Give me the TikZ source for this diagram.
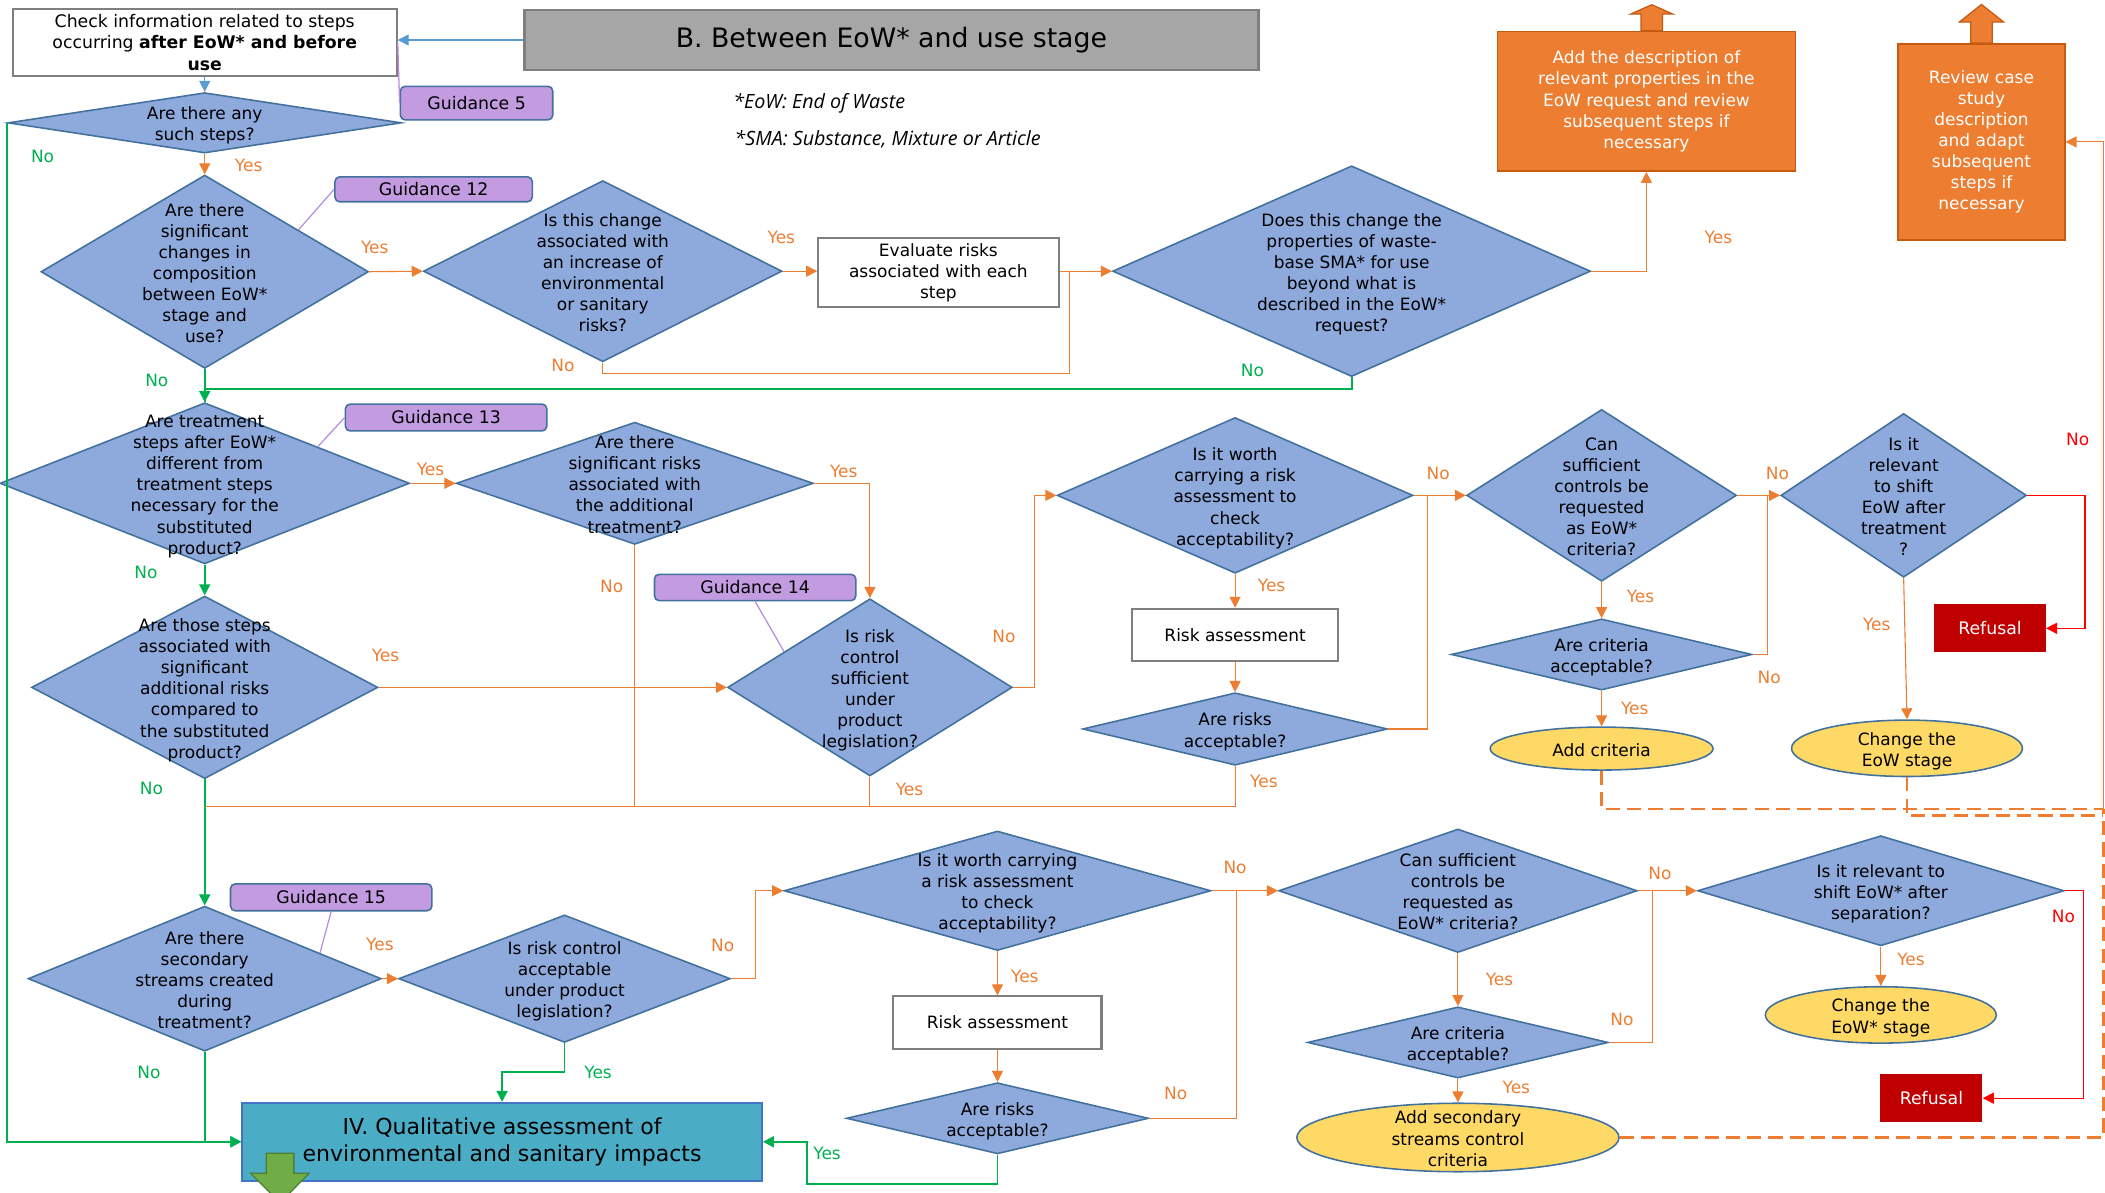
\documentclass[tikz,border=0pt]{standalone}
\usepackage{fontspec}
\setmainfont{DejaVu Sans}
\newfontfamily\notefont{Open Sans}
\usetikzlibrary{shapes.geometric,arrows.meta,calc}

\definecolor{qblue}{HTML}{8EA9DB}
\definecolor{qedge}{HTML}{41719C}
\definecolor{gdfill}{HTML}{C39BE0}
\definecolor{lnorange}{HTML}{ED7D31}
\definecolor{lngreen}{HTML}{00B050}
\definecolor{lnred}{HTML}{FF0000}
\definecolor{lnblue}{HTML}{5B9BD5}
\definecolor{lnpurple}{HTML}{B48FE0}
\definecolor{ellfill}{HTML}{FFD966}
\definecolor{boxorange}{HTML}{ED7D31}
\definecolor{boxorangeedge}{HTML}{C55A11}
\definecolor{refred}{HTML}{C00000}
\definecolor{ivfill}{HTML}{4BACC6}
\definecolor{ivedge}{HTML}{4472C4}
\definecolor{blkgreen}{HTML}{70AD47}
\definecolor{blkgreenedge}{HTML}{507E32}
\definecolor{titlegray}{HTML}{A6A6A6}
\definecolor{edgegray}{HTML}{7F7F7F}

\newcommand{\qtext}[1]{\makebox[0pt]{\smash{\raisebox{-0.45em}{\begin{tabular}{@{}c@{}}#1\end{tabular}}}}}

\begin{document}
\begin{tikzpicture}[x=0.03cm, y=-0.03cm,
	every node/.style={font=\fontsize{10.8}{13.4}\selectfont},
	sz/.style 2 args={minimum width=#1*0.03cm, minimum height=#2*0.03cm},
	quest/.style={diamond, draw=qedge, fill=qblue, line width=1pt, inner sep=0pt},
	ovalq/.style={ellipse, draw=qedge, fill=ellfill, line width=1pt, inner sep=0pt},
	plainbox/.style={rectangle, draw=edgegray, fill=white, line width=1.3pt, inner sep=0pt, align=center},
	titlebox/.style={rectangle, draw=edgegray, fill=titlegray, line width=1.6pt, inner sep=0pt, font=\fontsize{17}{20}\selectfont},
	guide/.style={rectangle, rounded corners=3pt, draw=qedge, fill=gdfill, line width=1pt, inner sep=0pt, font=\fontsize{11}{13}\selectfont},
	actbox/.style={rectangle, draw=boxorangeedge, fill=boxorange, line width=1pt, inner sep=0pt, align=center, text=white},
	refbox/.style={rectangle, fill=refred, inner sep=0pt, text=white, font=\fontsize{11}{13}\selectfont},
	ivbox/.style={rectangle, draw=ivedge, fill=ivfill, line width=1.3pt, inner sep=0pt, align=center, font=\fontsize{14}{17}\selectfont},
	note/.style={anchor=west, inner sep=0pt, font=\notefont\itshape\fontsize{12.5}{15}\selectfont},
	arr/.style={-{Triangle[length=7pt,width=7pt]}},
	ornl/.style={draw=lnorange, line width=0.7pt},
	grnl/.style={draw=lngreen, line width=1.2pt},
	redl/.style={draw=lnred, line width=0.7pt},
	bluel/.style={draw=lnblue, line width=0.8pt},
	purpl/.style={draw=lnpurple, line width=0.8pt},
	dashl/.style={draw=lnorange, line width=1.6pt, dash pattern=on 9pt off 4.5pt},
	upblk/.style={draw=boxorangeedge, fill=boxorange, line width=0.8pt},
	dnblk/.style={draw=blkgreenedge, fill=blkgreen, line width=0.8pt},
	tago/.style={text=lnorange},
	tagg/.style={text=lngreen},
	tagr/.style={text=lnred}]
	\useasboundingbox (0,0) rectangle (1568,888);

	\node[plainbox, sz={286}{50}, font=\fontsize{11}{13.6}\selectfont] (check) at (152.5,31.5) {Check information related to steps\\occurring \textbf{after EoW* and before}\\\textbf{use}};
	\node[titlebox, sz={547}{44.7}] (title) at (664,29.8) {B. Between EoW* and use stage};
	\node[guide, sz={113.5}{25}] (g5) at (355,76.8) {Guidance 5};
	\node[guide, sz={147}{18.6}] (g12) at (323,141) {Guidance 12};
	\node[guide, sz={150}{20}] (g13) at (332.3,311) {Guidance 13};
	\node[guide, sz={150}{19.6}] (g14) at (562.5,437.6) {Guidance 14};
	\node[guide, sz={150}{20}] (g15) at (246.7,668.4) {Guidance 15};
	\node[note] (fn1) at (546,77) {*EoW: End of Waste};
	\node[note] (fn2) at (547,104) {*SMA: Substance, Mixture or Article};

	\node[quest, sz={293}{45}] (d1) at (152.5,91.5) {\qtext{Are there any\\such steps?}};
	\node[quest, sz={244}{144}] (d2) at (152.5,202.4) {\qtext{Are there\\significant\\changes in\\composition\\between EoW*\\stage and\\use?}};
	\node[quest, sz={267}{135}] (d3) at (449,202) {\qtext{Is this change\\associated with\\an increase of\\environmental\\or sanitary\\risks?}};
	\node[plainbox, sz={179}{52}] (eval) at (699,203) {Evaluate risks\\associated with each\\step};
	\node[quest, sz={356}{157}] (d4) at (1006.8,202) {\qtext{Does this change the\\properties of waste-\\base SMA* for use\\beyond what is\\described in the EoW*\\request?}};
	\node[actbox, sz={222}{104}] (ob1) at (1226.4,75.5) {Add the description of\\relevant properties in the\\EoW request and review\\subsequent steps if\\necessary};
	\node[actbox, sz={124}{146}] (ob2) at (1476,105.7) {Review case\\study\\description\\and adapt\\subsequent\\steps if\\necessary};

	\node[quest, sz={305}{120}] (d5) at (152.5,360) {\qtext{Are treatment\\steps after EoW*\\different from\\treatment steps\\necessary for the\\substituted\\product?}};
	\node[quest, sz={266}{91}] (d6) at (472.8,360) {\qtext{Are there\\significant risks\\associated with\\the additional\\treatment?}};
	\node[quest, sz={212}{132}] (d7) at (648,512) {\qtext{Is risk\\control\\sufficient\\under\\product\\legislation?}};
	\node[quest, sz={258}{136}] (d8) at (152.5,512) {\qtext{Are those steps\\associated with\\significant\\additional risks\\compared to\\the substituted\\product?}};
	\node[quest, sz={265}{116}] (d9) at (920,369) {\qtext{Is it worth\\carrying a risk\\assessment to\\check\\acceptability?}};
	\node[plainbox, sz={154}{39}] (ra1) at (920,473) {Risk assessment};
	\node[quest, sz={227}{54}] (ra1q) at (920,543) {\qtext{Are risks\\acceptable?}};
	\node[quest, sz={201}{128}] (d11) at (1193,369) {\qtext{Can\\sufficient\\controls be\\requested\\as EoW*\\criteria?}};
	\node[quest, sz={224}{53}] (d12) at (1193,487.5) {\qtext{Are criteria\\acceptable?}};
	\node[ovalq, sz={166}{32}] (ell1) at (1193,557.6) {\qtext{Add criteria}};
	\node[quest, sz={183}{122}] (d13) at (1418,369) {\qtext{Is it\\relevant\\to shift\\EoW after\\treatment\\?}};
	\node[ovalq, sz={172}{42}] (ell2) at (1420.5,557.4) {\qtext{Change the\\EoW stage}};
	\node[refbox, sz={83}{36}] (ref1) at (1482.3,468) {Refusal};

	\node[quest, sz={263}{108}] (d10) at (152.5,729) {\qtext{Are there\\secondary\\streams created\\during\\treatment?}};
	\node[quest, sz={247}{95}] (d14) at (420.5,729) {\qtext{Is risk control\\acceptable\\under product\\legislation?}};
	\node[ivbox, sz={387}{58}] (iv) at (374,850.5) {IV. Qualitative assessment of\\environmental and sanitary impacts};
	\node[quest, sz={318}{89}] (d15) at (743,663.5) {\qtext{Is it worth carrying\\a risk assessment\\to check\\acceptability?}};
	\node[plainbox, sz={155}{39}] (ra2) at (743,761.7) {Risk assessment};
	\node[quest, sz={225}{53}] (d16) at (743,833) {\qtext{Are risks\\acceptable?}};
	\node[quest, sz={267}{92}] (d17) at (1086,663.5) {\qtext{Can sufficient\\controls be\\requested as\\EoW* criteria?}};
	\node[quest, sz={224}{53}] (d18) at (1086,776.5) {\qtext{Are criteria\\acceptable?}};
	\node[ovalq, sz={240}{51}] (ell3) at (1086,847.3) {\qtext{Add secondary\\streams control\\criteria}};
	\node[quest, sz={273}{82}] (d19) at (1401,663.5) {\qtext{Is it relevant to\\shift EoW* after\\separation?}};
	\node[ovalq, sz={172}{42}] (ell4) at (1401,756) {\qtext{Change the\\EoW* stage}};
	\node[refbox, sz={76}{36}] (ref2) at (1438.7,818) {Refusal};

	\draw[bluel, arr] (title.west) -- (check.east |- title.west);
	\draw[purpl] (check.east) -- (g5.west);
	\draw[bluel, arr] (check.south) -- (d1.north);
	\draw[ornl, arr] (d1.south) -- (d2.north);
	\draw[grnl, arr] (d1.west) |- (iv.west);
	\draw[ornl, arr] (d2.east) -- (d3.west);
	\draw[purpl] ($(d2.north)!0.57!(d2.east)$) -- (g12.west);
	\draw[ornl, arr] (d3.east) -- (eval.west |- d3.east);
	\draw[ornl, arr] (eval.east |- d4.west) -- (d4.west);
	\draw[ornl] (d3.south) -- ++(0,8.4) -| ($(eval.east |- d4.west)+(7.5,0)$);
	\draw[ornl, arr] (d4.east) -| (ob1.south);
	\draw[grnl, arr] (d2.south) -- (d5.north);
	\draw[grnl] (d4.south) -- ++(0,8.7) -| (d5.north);
	\draw[upblk] (ob1.north) ++(-4,0) -- ++(0,-12.4) -- ++(-7.8,0) -- ++(15.8,-7) -- ++(15.8,7) -- ++(-7.8,0) -- ++(0,12.4) -- cycle;
	\draw[upblk] (ob2.north) ++(-8,0) -- ++(0,-15.7) -- ++(-8.5,0) -- ++(16.5,-13.1) -- ++(16.5,13.1) -- ++(-8.5,0) -- ++(0,15.7) -- cycle;

	\draw[ornl, arr] (d5.east) -- (d6.west);
	\draw[purpl] ($(d5.north)!0.55!(d5.east)$) -- (g13.west);
	\draw[grnl, arr] (d5.south) -- (d8.north);
	\draw[ornl, arr] (d6.east) -| (d7.north);
	\draw[purpl] (g14.south) -- ($(d7.north)!0.6!(d7.west)$);
	\draw[ornl, arr] (d8.east) -- (d7.west);
	\draw[grnl, arr] (d8.south) -- (d10.north);
	\coordinate (merge) at (152.5,601);
	\draw[ornl] (d6.south) -- (d6.south |- merge);
	\draw[ornl] (d7.south) |- (merge);
	\draw[ornl] (ra1q.south) |- (merge);
	\draw[ornl, arr] (d7.east) -- ++(16,0) |- (d9.west);
	\draw[ornl, arr] (d9.south) -- (ra1.north);
	\draw[ornl, arr] (ra1.south) -- (ra1q.north);
	\draw[ornl, arr] (d9.east) -- (d11.west);
	\draw[ornl] (ra1q.east) -- ++(29,0) |- (d11.west);
	\draw[ornl, arr] (d11.south) -- (d12.north);
	\draw[ornl, arr] (d12.south) -- (ell1.north);
	\draw[ornl, arr] (d11.east) -- (d13.west);
	\draw[ornl] (d12.east) -- ++(11,0) |- (d13.west);
	\draw[ornl, arr] (d13.south) -- (ell2.north);
	\draw[redl, arr] (d13.east) -- ++(43,0) |- (ref1.east);

	\coordinate (rt1) at (1566.7,602.6);
	\coordinate (rt2) at (1566.7,607.6);
	\draw[dashl] (ell1.south) |- (rt1);
	\draw[dashl] (ell2.south) |- (rt2);
	\draw[dashl] (ell3.east) -| (rt1);
	\draw[ornl, arr] (rt1) |- (ob2.east);

	\draw[ornl, arr] (d10.east) -- (d14.west);
	\draw[purpl] (g15.south) -- ($(d10.north)!0.65!(d10.east)$);
	\draw[grnl, arr] (d10.south) |- (iv.west);
	\draw[grnl, arr] (d14.south) -- ++(0,21.6) -| (iv.north);
	\draw[ornl, arr] (d14.east) -- ++(18.5,0) |- (d15.west);
	\draw[ornl, arr] (d15.south) -- (ra2.north);
	\draw[ornl, arr] (ra2.south) -- (d16.north);
	\draw[grnl, arr] (d16.south) -- ++(0,22) -| ($(iv.east)+(33,0)$) -- (iv.east);
	\draw[ornl, arr] (d15.east) -- (d17.west);
	\draw[ornl] (d16.east) -- ++(65,0) |- (d17.west);
	\draw[ornl, arr] (d17.south) -- (d18.north);
	\draw[ornl, arr] (d18.south) -- (ell3.north);
	\draw[ornl, arr] (d17.east) -- (d19.west);
	\draw[ornl] (d18.east) -- ++(32,0) |- (d19.west);
	\draw[ornl, arr] (d19.south) -- (ell4.north);
	\draw[redl, arr] (d19.east) -- ++(14,0) |- (ref2.east);
	\draw[dnblk] (198.4,859) -- (218.9,859) -- (218.9,874) -- (230.2,874) -- (208.6,896) -- (186.6,874) -- (198.4,874) -- cycle;

	\node[tago] (y1) at (185.2,123.4) {Yes};
	\node[tago] (y2) at (279.2,184.5) {Yes};
	\node[tago] (y3) at (582,176.8) {Yes};
	\node[tago] (y4) at (1280,176.8) {Yes};
	\node[tago] (y5) at (320.7,350) {Yes};
	\node[tago] (y6) at (628.5,351.3) {Yes};
	\node[tago] (y7) at (287.2,487.9) {Yes};
	\node[tago] (y8) at (677.5,587.7) {Yes};
	\node[tago] (y9) at (947.2,435.8) {Yes};
	\node[tago] (y10) at (941.5,582.3) {Yes};
	\node[tago] (y11) at (1222,444.5) {Yes};
	\node[tago] (y12) at (1217.7,527.6) {Yes};
	\node[tago] (y13) at (1398,464.8) {Yes};
	\node[tago] (y14) at (283,703.4) {Yes};
	\node[tago] (y15) at (763.4,727.5) {Yes};
	\node[tago] (y16) at (1117,729.2) {Yes};
	\node[tago] (y17) at (1129.5,810.2) {Yes};
	\node[tago] (y18) at (1423.5,714.3) {Yes};
	\node[tago] (n1) at (419.3,272.4) {No};
	\node[tago] (n2) at (455.6,436.5) {No};
	\node[tago] (n3) at (747.9,473.7) {No};
	\node[tago] (n4) at (1071.3,353) {No};
	\node[tago] (n5) at (1324,353) {No};
	\node[tago] (n6) at (1317.8,504.5) {No};
	\node[tago] (n7) at (538.4,704.4) {No};
	\node[tago] (n8) at (920,646.3) {No};
	\node[tago] (n9) at (875.8,814.7) {No};
	\node[tago] (n10) at (1236.5,650.5) {No};
	\node[tago] (n11) at (1208.2,759.3) {No};
	\node[tagg] (gn1) at (31.7,116.7) {No};
	\node[tagg] (gn2) at (116.8,283.6) {No};
	\node[tagg] (gn3) at (933,276) {No};
	\node[tagg] (gn4) at (108.7,426.6) {No};
	\node[tagg] (gn5) at (112.8,587.2) {No};
	\node[tagg] (gn6) at (110.9,799) {No};
	\node[tagg] (gy1) at (445.5,799) {Yes};
	\node[tagg] (gy2) at (616.1,859.1) {Yes};
	\node[tagr] (rn1) at (1547.6,327.2) {No};
	\node[tagr] (rn2) at (1537,683) {No};
\end{tikzpicture}
\end{document}
